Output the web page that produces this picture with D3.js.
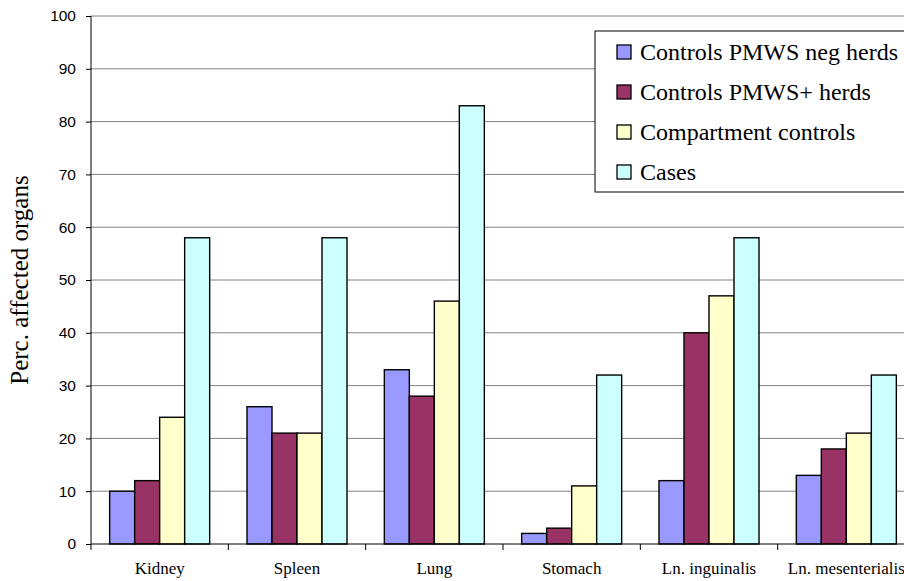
<!DOCTYPE html>
<html>
<head>
<meta charset="utf-8">
<script src="https://cdn.jsdelivr.net/npm/d3@7"></script>
<style>
  body { margin: 0; background: #fff; }
  svg { display: block; }
</style>
</head>
<body>
<div id="chart"></div>
<script>
// data
var organs = ["Kidney", "Spleen", "Lung", "Stomach", "Ln. inguinalis", "Ln. mesenterialis"];
var seriesNames = ["Controls PMWS neg herds", "Controls PMWS+ herds", "Compartment controls", "Cases"];
var negHerds = [10, 26, 33, 2, 12, 13];
var posHerds = [12, 21, 28, 3, 40, 18];
var compartment = [24, 21, 46, 11, 47, 21];
var cases = [58, 58, 83, 32, 58, 32];
var yTicks = [0, 10, 20, 30, 40, 50, 60, 70, 80, 90, 100];

var colors = ["#9999ff", "#993366", "#ffffcc", "#ccffff"];
var allSeries = [negHerds, posHerds, compartment, cases];

var serif = "'Liberation Serif', 'Times New Roman', serif";
var sans = "'Liberation Sans', Arial, sans-serif";

var W = 904, H = 581;
var margin = {left: 91, top: 16, bottom: 37};
var plotRight = 915; // plot runs past the window edge

var svg = d3.select("#chart").append("svg")
    .attr("width", W)
    .attr("height", H);

var x = d3.scaleBand()
    .domain(organs)
    .range([margin.left, plotRight]);

var x1 = d3.scaleBand()
    .domain(d3.range(seriesNames.length))
    .range([0, 100]);

var y = d3.scaleLinear()
    .domain([0, 100])
    .range([H - margin.bottom, margin.top]);

// grid lines
svg.append("g")
    .selectAll("line")
    .data(yTicks.filter(function (d) { return d > 0; }))
    .enter()
    .append("line")
    .attr("x1", margin.left)
    .attr("x2", plotRight)
    .attr("y1", function (d) { return y(d); })
    .attr("y2", function (d) { return y(d); })
    .attr("stroke", "#808080")
    .attr("stroke-width", 1);

// bars
var groups = svg.append("g")
    .selectAll("g")
    .data(organs)
    .enter()
    .append("g")
    .attr("transform", function (d) {
        return "translate(" + (x(d) + x.bandwidth() / 2 - 50) + ",0)";
    });

groups.selectAll("rect")
    .data(function (d, i) {
        return allSeries.map(function (s, k) { return {k: k, v: s[i]}; });
    })
    .enter()
    .append("rect")
    .attr("x", function (d) { return x1(d.k); })
    .attr("y", function (d) { return y(d.v); })
    .attr("width", x1.bandwidth())
    .attr("height", function (d) { return y(0) - y(d.v); })
    .attr("fill", function (d) { return colors[d.k]; })
    .attr("stroke", "#000")
    .attr("stroke-width", 1.4);

// y axis
var yAxis = svg.append("g")
    .attr("transform", "translate(" + margin.left + ",0)")
    .call(d3.axisLeft(y).tickValues(yTicks).tickSize(5).tickPadding(10));
yAxis.select(".domain").attr("stroke", "#000").attr("d", "M0," + y(100) + "V" + y(0));
yAxis.selectAll("text")
    .style("font-family", sans)
    .style("font-size", "15.5px")
    .attr("fill", "#000");

// x axis
var xAxis = svg.append("g")
    .attr("transform", "translate(0," + y(0) + ")")
    .call(d3.axisBottom(x).tickSize(0).tickPadding(18));
xAxis.select(".domain").attr("stroke", "#000").attr("d", "M" + margin.left + ",0H" + plotRight);
xAxis.selectAll("text")
    .style("font-family", serif)
    .style("font-size", "17px")
    .attr("fill", "#000");

// category separator ticks
svg.append("g")
    .selectAll("line")
    .data(organs)
    .enter()
    .append("line")
    .attr("x1", function (d) { return x(d); })
    .attr("x2", function (d) { return x(d); })
    .attr("y1", y(0))
    .attr("y2", y(0) + 6)
    .attr("stroke", "#000");

// y title
svg.append("text")
    .attr("transform", "translate(28," + ((y(0) + y(100)) / 2) + ") rotate(-90)")
    .attr("text-anchor", "middle")
    .style("font-family", serif)
    .style("font-size", "25px")
    .text("Perc. affected organs");

// legend
var legend = svg.append("g").attr("transform", "translate(595,31)");
legend.append("rect")
    .attr("width", 330)
    .attr("height", 161)
    .attr("fill", "#fff")
    .attr("stroke", "#000")
    .attr("stroke-width", 1);

var items = legend.selectAll(".item")
    .data(seriesNames)
    .enter()
    .append("g")
    .attr("transform", function (d, i) { return "translate(22," + (21 + i * 40) + ")"; });

items.append("rect")
    .attr("x", 0)
    .attr("y", -7)
    .attr("width", 14)
    .attr("height", 14)
    .attr("fill", function (d, i) { return colors[i]; })
    .attr("stroke", "#000")
    .attr("stroke-width", 1.3);

items.append("text")
    .attr("x", 23)
    .attr("y", 8)
    .style("font-family", serif)
    .style("font-size", "24px")
    .text(function (d) { return d; });
</script>
</body>
</html>
